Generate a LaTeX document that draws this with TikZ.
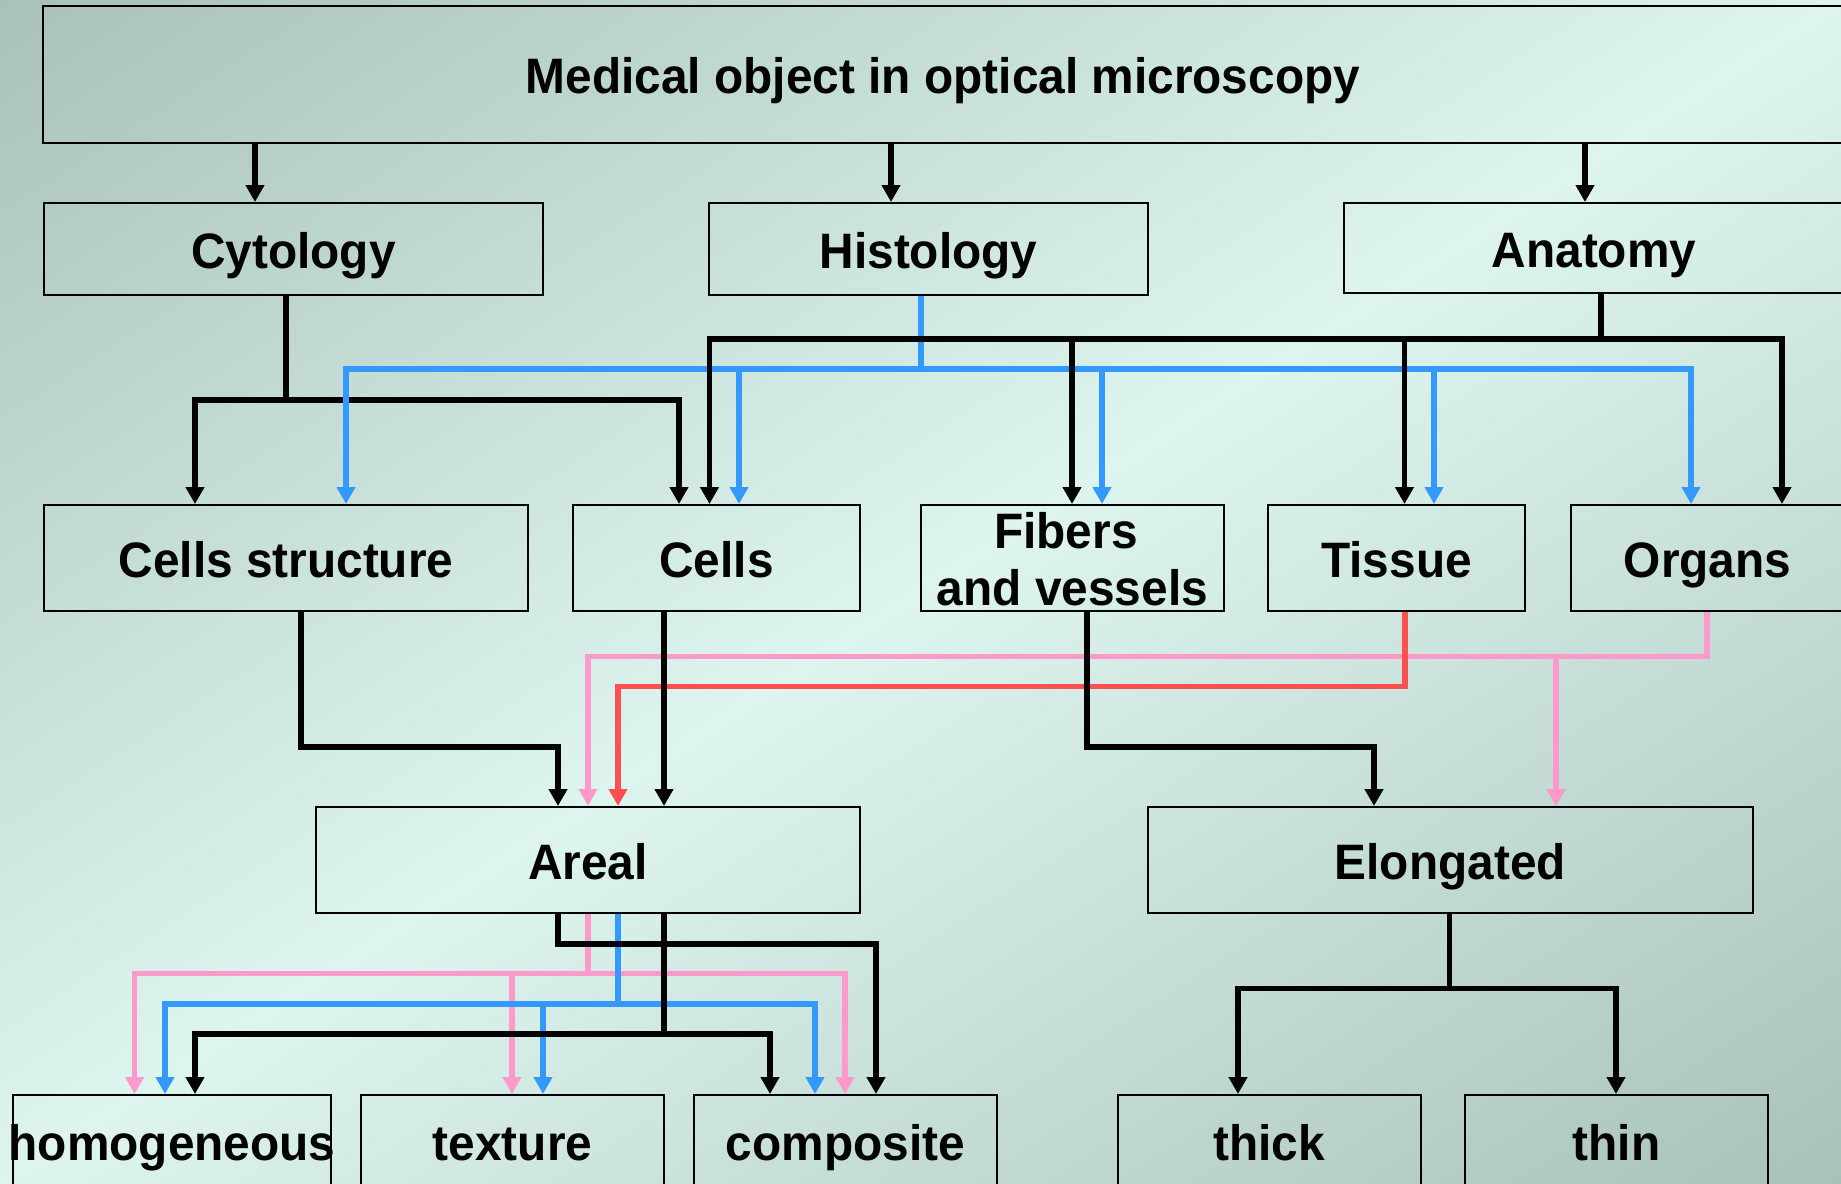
\documentclass[tikz,border=0pt]{standalone}
\usepackage{fontspec}
\setmainfont{Liberation Sans}[FakeStretch=0.96]
\usetikzlibrary{arrows.meta}
\definecolor{bgA}{RGB}{169,193,187}
\definecolor{bgB}{RGB}{222,245,239}
\definecolor{cblue}{RGB}{51,153,255}
\definecolor{cpink}{RGB}{255,153,204}
\definecolor{cred}{RGB}{255,80,80}
\begin{document}
\begin{tikzpicture}[x=1pt,y=-1pt,
  box/.style={draw=black, line width=2pt, inner sep=0pt, text height=38pt, text depth=0pt,
    font=\fontsize{49.8}{59}\selectfont\bfseries},
  link/.style={line width=5.5pt, line join=miter, -{Triangle[width=18pt,length=17pt]}},
  blk/.style={link, color=black},
  blu/.style={link, color=cblue},
  pnk/.style={link, color=cpink},
  rd/.style={link, color=cred}]
\useasboundingbox (0,0) rectangle (1841,1183);
% background gradient
\begin{scope}
\clip (0,0) rectangle (1841,1183);
\begin{scope}[transform canvas={shift={(920.5pt,-591.5pt)}, rotate=-57.27}]
\shade[left color=bgA, right color=bgA, middle color=bgB] (-996pt,-1600pt) rectangle (996pt,1600pt);
\end{scope}
\end{scope}
% boxes
\node[box, minimum width=1800pt, minimum height=137pt] (top) at (943,74.5) {Medical object in optical microscopy};
\node[box, minimum width=499pt, minimum height=92pt] (cyt) at (293.5,249) {Cytology};
\node[box, minimum width=439pt, minimum height=92pt] (his) at (928.5,249) {Histology};
\node[box, minimum width=500pt, minimum height=90pt] (ana) at (1594,248) {Anatomy};
\node[box, minimum width=484pt, minimum height=106pt] (cstr) at (286,558) {Cells structure};
\node[box, minimum width=287pt, minimum height=106pt] (cells) at (716.5,558) {Cells};
\node[box, minimum width=303pt, minimum height=106pt, text height=95pt] (fib) at (1072.5,558)
  {\vbox{\baselineskip=57pt\hbox to 290pt{\hfil Fibers\hskip 13pt\hfil}\hbox to 290pt{\hfil and vessels\hfil}}};
\node[box, minimum width=257pt, minimum height=106pt] (tis) at (1396.5,558) {Tissue};
\node[box, minimum width=273pt, minimum height=106pt] (org) at (1707.5,558) {Organs};
\node[box, minimum width=544pt, minimum height=106pt] (areal) at (588,860) {Areal};
\node[box, minimum width=605pt, minimum height=106pt] (elong) at (1450.25,860) {Elongated};
\node[box, minimum width=318pt, minimum height=92pt] (homog) at (172,1141) {\hbox to 0pt{\hss homogeneous\hss}};
\node[box, minimum width=303pt, minimum height=92pt] (tex) at (512.5,1141) {texture};
\node[box, minimum width=303pt, minimum height=92pt] (comp) at (845.5,1141) {composite};
\node[box, minimum width=303pt, minimum height=92pt] (thick) at (1269,1141) {thick};
\node[box, minimum width=303pt, minimum height=92pt] (thin) at (1616.5,1141) {thin};
% level 1
\draw[blk] (top.south -| 255,0) -- (cyt.north -| 255,0);
\draw[blk] (top.south -| 891,0) -- (his.north -| 891,0);
\draw[blk] (top.south -| 1585,0) -- (ana.north -| 1585,0);
% Cytology
\draw[blk] (cyt.south -| 286,0) |- (195,400) -- (cstr.north -| 195,0);
\draw[blk] (cyt.south -| 286,0) |- (679,400) -- (cells.north -| 679,0);
% Histology
\foreach \xx/\tg in {346/cstr, 739/cells, 1102/fib, 1434/tis, 1691/org}
  \draw[blu] (his.south -| 921,0) |- (\xx,369) -- (\tg.north -| \xx,0);
% Anatomy
\foreach \xx/\tg in {709.5/cells, 1072/fib, 1404.5/tis, 1782/org}
  \draw[blk] (ana.south -| 1601,0) |- (\xx,339) -- (\tg.north -| \xx,0);
% row 3 to row 4
\draw[pnk] (org.south -| 1707,0) |- (588,656.5) -- (areal.north -| 588,0);
\draw[pnk] (org.south -| 1707,0) |- (1556,656.5) -- (elong.north -| 1556,0);
\draw[rd] (tis.south -| 1405,0) |- (618,686.5) -- (areal.north -| 618,0);
\draw[blk] (cstr.south -| 301,0) |- (558,747) -- (areal.north -| 558,0);
\draw[blk] (cells.south -| 664,0) -- (areal.north -| 664,0);
\draw[blk] (fib.south -| 1087,0) |- (1374,747) -- (elong.north -| 1374,0);
% row 4 to row 5
\foreach \xx/\tg in {134.6/homog, 512/tex, 845/comp}
  \draw[pnk] (areal.south -| 588,0) |- (\xx,973.5) -- (\tg.north -| \xx,0);
\foreach \xx/\tg in {165/homog, 543/tex, 815/comp}
  \draw[blu] (areal.south -| 618,0) |- (\xx,1004) -- (\tg.north -| \xx,0);
\foreach \xx/\tg in {195/homog, 770/comp}
  \draw[blk] (areal.south -| 664,0) |- (\xx,1034) -- (\tg.north -| \xx,0);
\draw[blk] (areal.south -| 558,0) |- (876,944) -- (comp.north -| 876,0);
\draw[blk] (elong.south -| 1449.5,0) |- (1238,988.5) -- (thick.north -| 1238,0);
\draw[blk] (elong.south -| 1449.5,0) |- (1616,988.5) -- (thin.north -| 1616,0);
\end{tikzpicture}
\end{document}
